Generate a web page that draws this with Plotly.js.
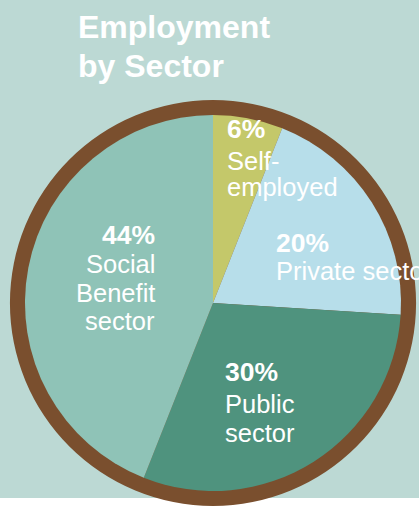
<!DOCTYPE html>
<html>
<head>
<meta charset="utf-8">
<script src="https://cdn.plot.ly/plotly-3.0.1.min.js"></script>
<style>html,body{margin:0;padding:0;background:#fff;}#chart{width:419px;height:506px;}</style>
</head>
<body>
<div id="chart"></div>
<script>
// ---- data ----
const sectors = ["Self-employed", "Private sector", "Public sector", "Social Benefit sector"];
const shares = [6, 20, 30, 44];
const labelLines = [["Self-", "employed"], ["Private sector"], ["Public", "sector"], ["Social", "Benefit", "sector"]];
const sliceColors = ["#c4c86a", "#b7deea", "#4f937e", "#8fc3b7"];
const titleLines = ["Employment", "by Sector"];

// ---- layout constants ----
const W = 419, H = 506;
const cx = 213, cy = 303, rOuter = 203, rInner = 188;
const brown = "#7a4f2e";
const bg = "#bcd9d4";
const fam = "Liberation Sans, Arial, sans-serif";

function px(x) { return x / W; }
function py(y) { return (H - y) / H; }

// label anchor positions (pixel), per slice
const labelPos = [
  {x: 227, pctBase: 138, firstBase: 170, step: 26, align: "left"},
  {x: 276, pctBase: 252, firstBase: 280, step: 28, align: "left"},
  {x: 225, pctBase: 381, firstBase: 413, step: 29, align: "left"},
  {x: 155, pctBase: 244, firstBase: 273, step: 28.5, align: "right"}
];
const pctSize = 26.5, txtSize = 25.5, titleSize = 32;

const annotations = [];
function addText(text, x, baseline, size, bold, align) {
  annotations.push({
    text: bold ? "<b>" + text + "</b>" : text,
    xref: "paper", yref: "paper",
    x: px(align === "right" ? x + 2 : x - 2),
    y: py(baseline - 0.35 * size),
    xanchor: align, yanchor: "middle",
    showarrow: false,
    font: {family: fam, size: size, color: "#ffffff"}
  });
}
sectors.forEach((s, i) => {
  const p = labelPos[i];
  addText(shares[i] + "%", p.x, p.pctBase, pctSize, true, p.align);
  labelLines[i].forEach((ln, j) => {
    addText(ln, p.x, p.firstBase + j * p.step, txtSize, false, p.align);
  });
});
addText(titleLines[0], 78, 38, titleSize, true, "left");
addText(titleLines[1], 78, 77, titleSize, true, "left");

const ring = {
  type: "pie",
  values: [1],
  labels: ["ring"],
  marker: {colors: [brown], line: {width: 0}},
  textinfo: "none",
  hoverinfo: "skip",
  showlegend: false,
  sort: false,
  domain: {x: [px(cx - rOuter), px(cx + rOuter)], y: [py(cy + rOuter), py(cy - rOuter)]}
};
const pie = {
  type: "pie",
  values: shares,
  labels: sectors,
  marker: {colors: sliceColors, line: {width: 0}},
  textinfo: "none",
  hoverinfo: "label+percent",
  showlegend: false,
  sort: false,
  direction: "clockwise",
  rotation: 0,
  domain: {x: [px(cx - rInner), px(cx + rInner)], y: [py(cy + rInner), py(cy - rInner)]}
};

const layout = {
  width: W, height: H,
  margin: {l: 0, r: 0, t: 0, b: 0},
  paper_bgcolor: "#ffffff",
  showlegend: false,
  shapes: [{
    type: "rect", xref: "paper", yref: "paper",
    x0: 0, x1: 1, y0: py(498), y1: 1,
    fillcolor: bg, line: {width: 0}, layer: "below"
  }],
  annotations: annotations
};

Plotly.newPlot("chart", [ring, pie], layout, {displayModeBar: false, staticPlot: true});
</script>
</body>
</html>
